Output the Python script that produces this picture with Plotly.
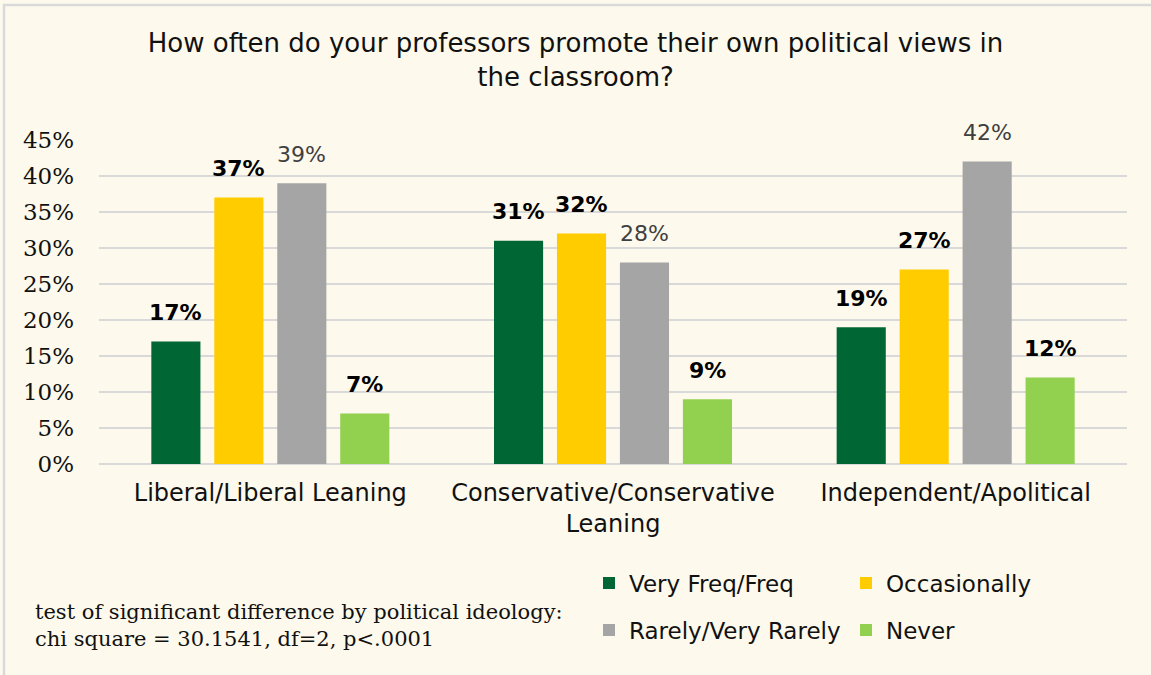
import plotly.graph_objects as go

# Survey responses by political ideology (percent of respondents)
categories = ["Liberal/Liberal Leaning", "Conservative/Conservative<br>Leaning", "Independent/Apolitical"]
very_freq = [17, 31, 19]
occasionally = [37, 32, 27]
rarely = [39, 28, 42]
never = [7, 9, 12]

series = [
    ("Very Freq/Freq", very_freq, "#006633", "legend", "#000000", "bold"),
    ("Occasionally", occasionally, "#FFCC00", "legend", "#000000", "bold"),
    ("Rarely/Very Rarely", rarely, "#A5A5A5", "legend2", "#404040", "normal"),
    ("Never", never, "#92D050", "legend2", "#000000", "bold"),
]

sans = "DejaVu Sans, sans-serif"
serif = "DejaVu Serif, serif"
bg = "#FDF9EC"

W, H = 1151, 675
plot_left, plot_right, plot_top, plot_bottom = 99, 1127, 140, 464
pw = plot_right - plot_left
ph = plot_bottom - plot_top

bargap = 0.265
bargroupgap = 0.22
# width of one bar slot within a group, in pixels
slot_px = pw / len(categories) * (1 - bargap) / len(series)


def px_x(x):
    return (x - plot_left) / pw


def px_y(y):
    return (plot_bottom - y) / ph


fig = go.Figure()
annotations = []
for i, (name, vals, color, leg, tcolor, weight) in enumerate(series):
    fig.add_trace(go.Bar(
        name=name,
        x=categories,
        y=vals,
        marker=dict(color=color, line=dict(width=0)),
        legend=leg,
        hoverinfo="skip",
    ))
    offset = (i - (len(series) - 1) / 2) * slot_px
    for cat, v in zip(categories, vals):
        annotations.append(dict(
            x=cat, y=v, xref="x", yref="y",
            text=f"{v}%",
            showarrow=False,
            xanchor="center", yanchor="middle",
            xshift=offset, yshift=29,
            font=dict(family=sans, size=22, color=tcolor, weight=weight),
        ))

annotations.append(dict(
    text="test of significant difference by political ideology:<br>chi square = 30.1541, df=2, p<.0001",
    xref="paper", yref="paper",
    x=px_x(33), y=px_y(598),
    xanchor="left", yanchor="top", align="left",
    showarrow=False,
    font=dict(family=serif, size=21, color="#111111"),
))

legend_common = dict(
    orientation="h",
    font=dict(family=sans, size=23, color="#111111"),
    bgcolor="rgba(0,0,0,0)",
    entrywidth=212,
    entrywidthmode="pixels",
    tracegroupgap=0,
    itemclick=False,
    itemdoubleclick=False,
    xanchor="left",
    yanchor="middle",
)

fig.update_layout(
    width=W,
    height=H,
    margin=dict(l=plot_left, r=W - plot_right, t=plot_top, b=H - plot_bottom),
    paper_bgcolor=bg,
    plot_bgcolor=bg,
    barmode="group",
    bargap=bargap,
    bargroupgap=bargroupgap,
    title=dict(
        text="How often do your professors promote their own political views in<br>the classroom?",
        font=dict(family=sans, size=26, color="#111111"),
        x=0.5, xref="container", xanchor="center",
        y=1 - 52 / H, yref="container", yanchor="top",
    ),
    xaxis=dict(
        showgrid=False,
        showline=False,
        ticks="",
        tickfont=dict(family=sans, size=24, color="#111111"),
        ticklabelstandoff=12,
    ),
    yaxis=dict(
        range=[0, 45],
        tickvals=list(range(0, 50, 5)),
        ticktext=[f"{v}%" for v in range(0, 50, 5)],
        showgrid=True,
        gridcolor="#D9D9D9",
        gridwidth=1.5,
        zeroline=True,
        zerolinecolor="#D9D9D9",
        zerolinewidth=1.5,
        showline=False,
        ticks="",
        tickfont=dict(family=serif, size=23, color="#111111"),
        ticklabelstandoff=24,
    ),
    legend=dict(x=px_x(589), y=px_y(583), **legend_common),
    legend2=dict(x=px_x(589), y=px_y(630), **legend_common),
    annotations=annotations,
    shapes=[
        dict(
            type="rect", xref="paper", yref="paper", layer="below",
            x0=px_x(4), x1=px_x(W + 20), y0=px_y(H + 20), y1=px_y(5),
            line=dict(color="#D9D9D9", width=2.5),
            fillcolor="rgba(0,0,0,0)",
        )
    ],
)

fig.write_html("out.html")
